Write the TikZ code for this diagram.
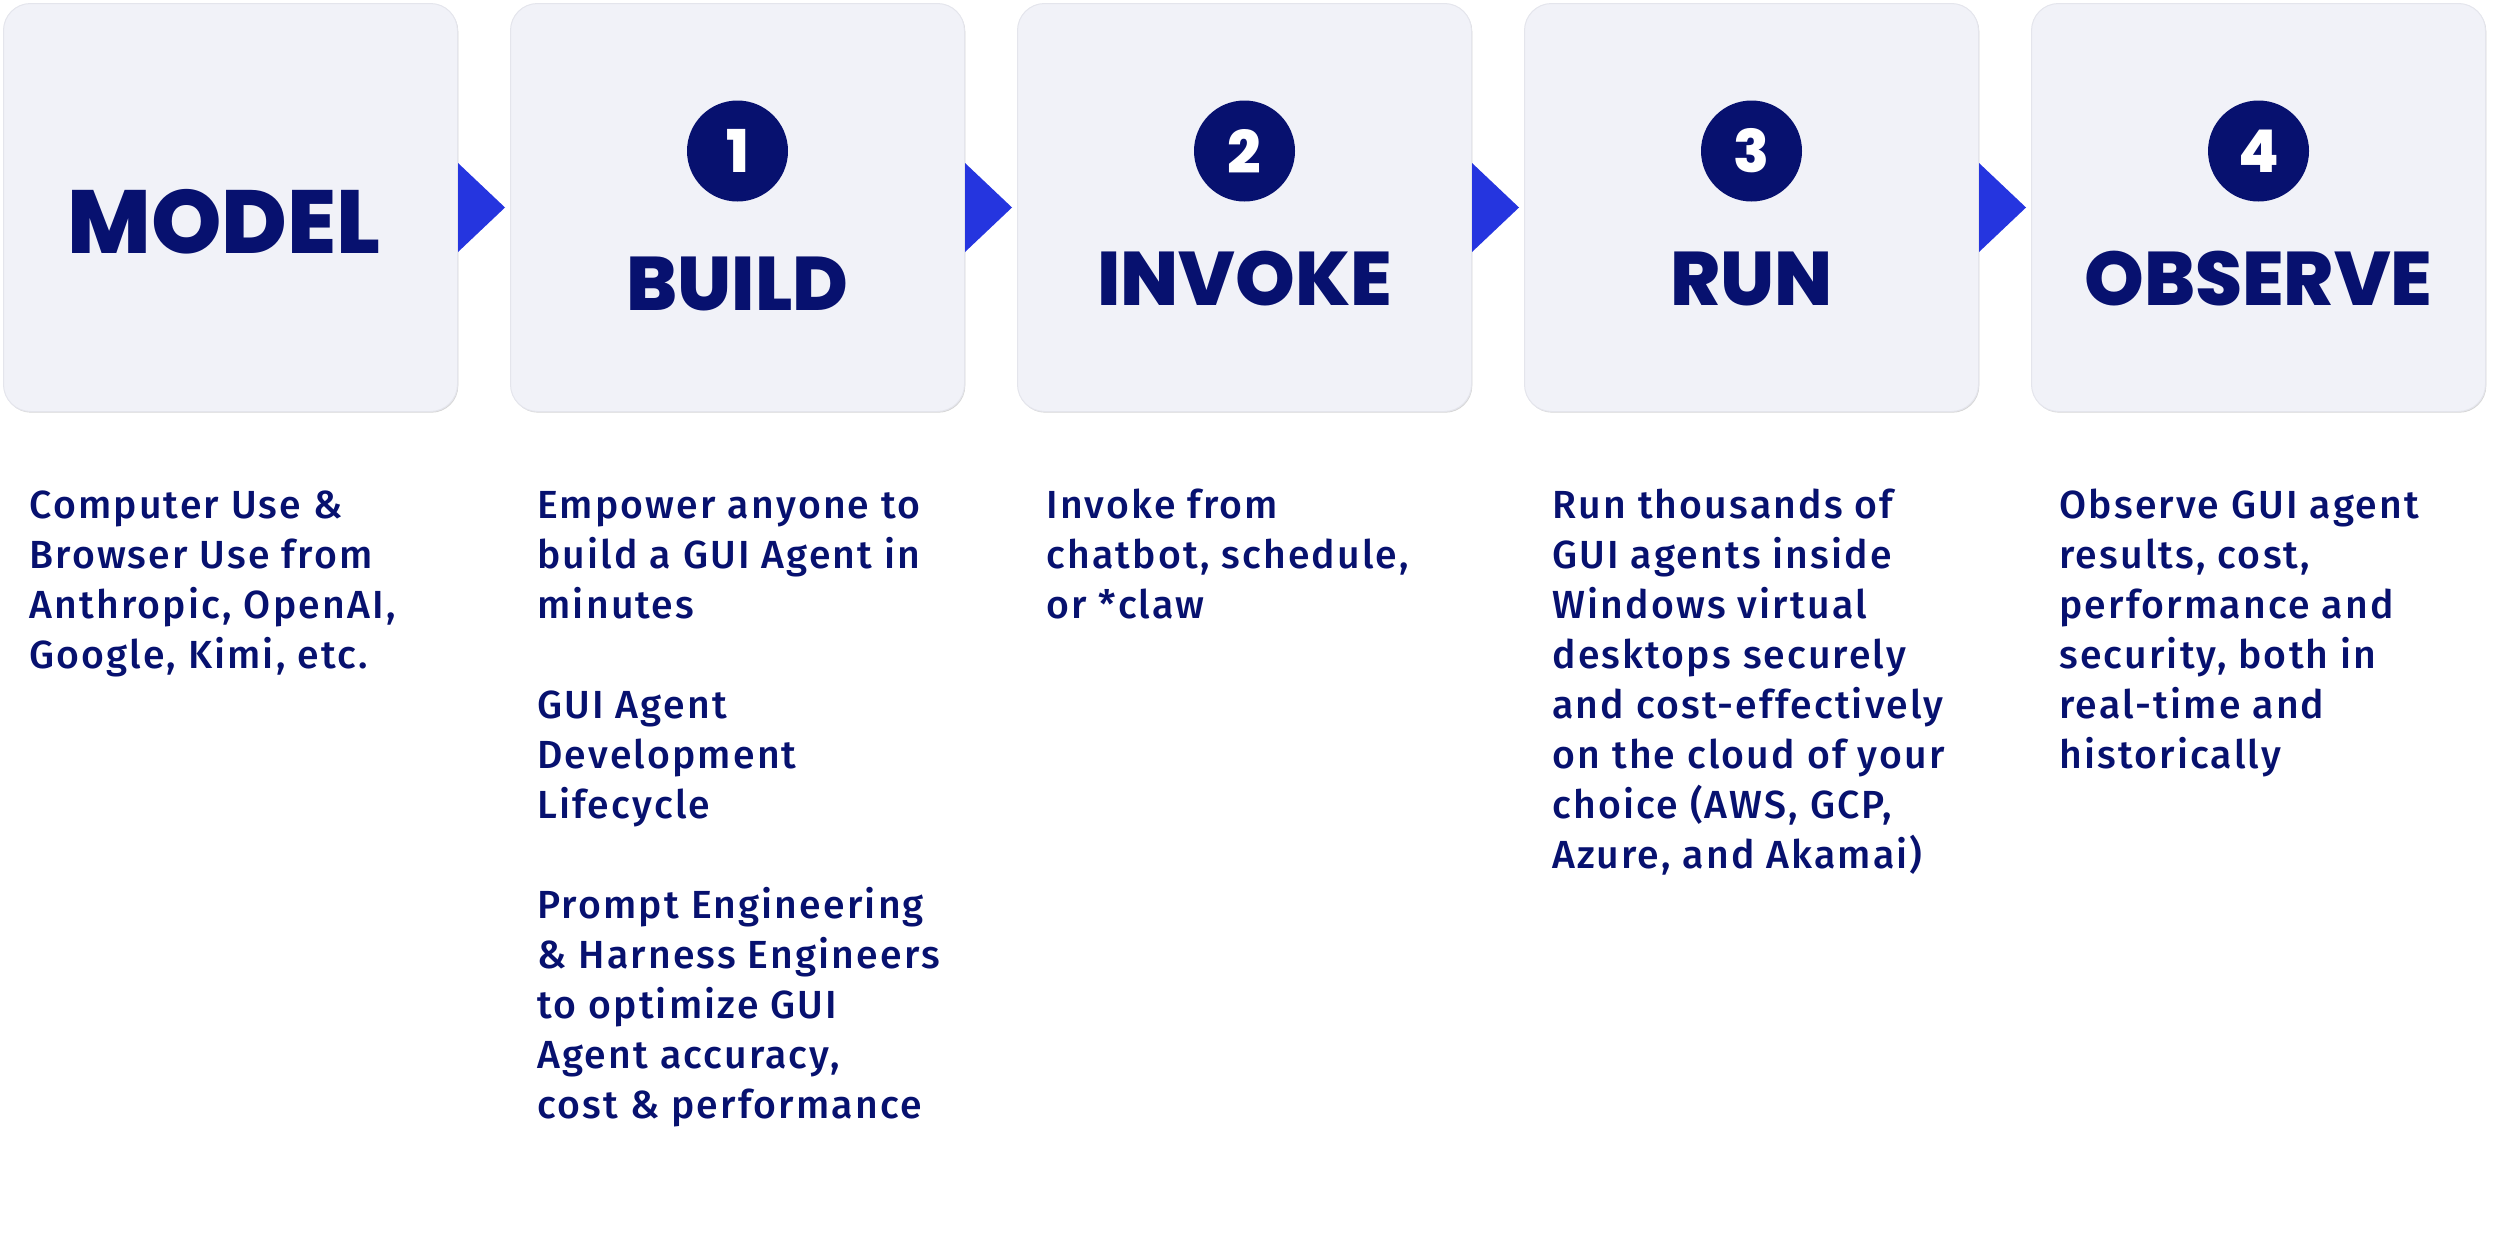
\documentclass[tikz,border=0pt]{standalone}
\usepackage{fontspec}
\usetikzlibrary{calc,shadows}
\newfontfamily\headfont{Poppins ExtraBold}
\newfontfamily\bodyfont{Fira Sans}[UprightFont=* Medium, LetterSpace=5.5]
\definecolor{navy}{HTML}{07116F}
\definecolor{cardfill}{HTML}{F1F2F8}
\definecolor{cardline}{HTML}{E4E5EC}
\definecolor{arrowc}{HTML}{2535DF}
\newcommand{\desc}[1]{\begin{tabular}[t]{@{}l@{}}#1\end{tabular}}
\tikzset{
  card/.style={draw=cardline, line width=0.5pt, fill=cardfill, rounded corners=13.5pt,
    minimum width=227pt, minimum height=204pt, inner sep=0pt, anchor=north west,
    drop shadow={shadow xshift=0.4pt, shadow yshift=-0.6pt, fill=black!16, opacity=1}},
  numdot/.style={circle, fill=navy, minimum size=50.5pt, inner sep=0pt, text=white,
    font=\headfont\fontsize{29.5pt}{30pt}\selectfont},
  stagetitle/.style={anchor=base, text=navy, inner sep=0pt,
    font=\headfont\fontsize{38pt}{40pt}\selectfont},
  bigtitle/.style={anchor=base, text=navy, inner sep=0pt,
    font=\headfont\fontsize{44.8pt}{46pt}\selectfont},
  bodytext/.style={anchor=base west, text=navy, inner sep=0pt,
    font=\bodyfont\fontsize{19.6pt}{25pt}\selectfont},
  flowtip/.style={fill=arrowc}
}
\begin{document}
\begin{tikzpicture}[x=0.5pt,y=-0.5pt]
\useasboundingbox (0,0) rectangle (2500,1253);
% cards
\node[card] (c0) at (3,3) {};
\node[card] (c1) at (510,3) {};
\node[card] (c2) at (1017,3) {};
\node[card] (c3) at (1524,3) {};
\node[card] (c4) at (2031,3) {};
% triangles between cards
\foreach \a/\b in {c0/c1,c1/c2,c2/c3,c3/c4}{
  \fill[flowtip] ($(\a.east)+(0,-44.5)$) -- ($(\a.east)+(47,0)$) -- ($(\a.east)+(0,44.5)$) -- cycle;
}
% numbers
\node[numdot] (n1) at (c1.center |- 0,151) {1};
\node[numdot] (n2) at (c2.center |- 0,151) {2};
\node[numdot] (n3) at (c3.center |- 0,151) {3};
\node[numdot] (n4) at (c4.center |- 0,151) {4};
% titles
\node[bigtitle] (t0) at (224,253) {MODEL};
\node[stagetitle] (t1) at (c1.center |- 0,310) {BUILD};
\node[stagetitle] (t2) at (c2.center |- 0,305) {INVOKE};
\node[stagetitle] (t3) at (c3.center |- 0,305) {RUN};
\node[stagetitle] (t4) at (c4.center |- 0,305) {OBSERVE};
% descriptions
\node[bodytext] (d0) at (29,518) {\desc{Computer Use \&\\Browser Use from\\Anthropic, OpenAI,\\Google, Kimi, etc.}};
\node[bodytext] (d1) at (537,518) {\desc{Empower anyone to\\build a GUI Agent in\\minutes\\ \\GUI Agent\\Development\\Lifecycle\\ \\Prompt Engineering\\\& Harness Engineers\\to optimize GUI\\Agent accuracy,\\cost \& performance}};
\node[bodytext] (d2) at (1046,518) {\desc{Invoke from\\chatbot, schedule,\\or *claw}};
\node[bodytext] (d3) at (1552,518) {\desc{Run thousands of\\GUI agents inside\\Windows virtual\\desktops securely\\and cost-effectively\\on the cloud of your\\choice (AWS, GCP,\\Azure, and Akamai)}};
\node[bodytext] (d4) at (2059,518) {\desc{Observe GUI agent\\results, cost,\\performance and\\security, both in\\real-time and\\historically}};
\end{tikzpicture}
\end{document}
